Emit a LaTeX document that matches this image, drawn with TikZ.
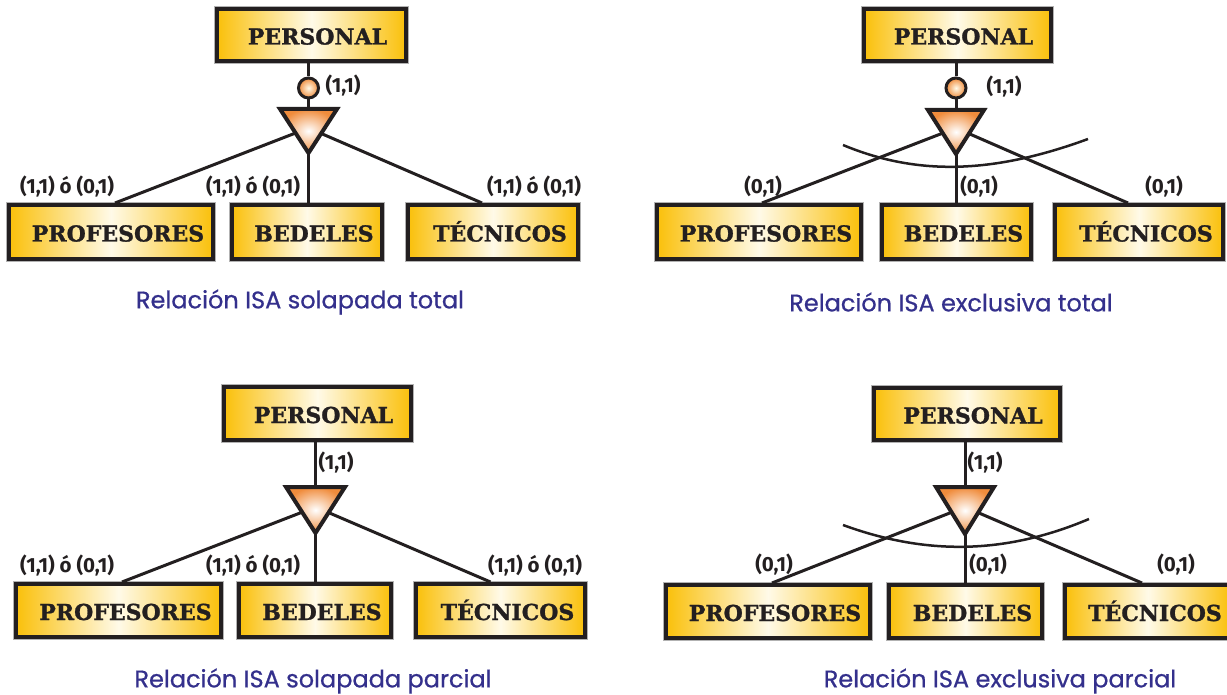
\documentclass[tikz,border=0pt]{standalone}
\usepackage{fontspec}
\newfontfamily\entfont{DejaVu Serif}[BoldFeatures={FakeBold=1.2}]
\newfontfamily\lblfont{Fira Sans}
\newfontfamily\capfont{Poppins}[FakeBold=0.7]
\definecolor{ink}{RGB}{35,31,32}
\definecolor{gold}{RGB}{250,192,10}
\definecolor{cream}{RGB}{255,250,232}
\definecolor{orng}{RGB}{240,140,60}
\definecolor{capblue}{RGB}{52,48,140}
\tikzset{
 ent/.style={draw=ink, line width=4pt, left color=gold, right color=gold, middle color=cream, inner sep=0pt,
   text height=19pt, text depth=0pt,
   font=\entfont\bfseries\fontsize{22}{22}\selectfont, text=ink, preaction={draw=black!30, line width=6pt}},
 conn/.style={draw=ink, line width=3pt},
 tri/.style={draw=ink, line width=4pt, shading=radial, inner color=white, outer color=orng, miter limit=10},
 knob/.style={circle, draw=ink, line width=3pt, inner sep=0pt, minimum size=20pt, shading=radial, inner color=cream, outer color=orng},
 card/.style={font=\lblfont\bfseries\fontsize{20.5}{20.5}\selectfont, text=ink, inner sep=0pt},
 capt/.style={font=\capfont\fontsize{24}{24}\selectfont, text=capblue, inner sep=0pt},
 arcline/.style={draw=ink, line width=2.5pt},
}
\begin{document}
\begin{tikzpicture}[x=1pt,y=-1pt]
\useasboundingbox (0,0) rectangle (1227,695);
% ================= top-left: solapada total
\node[ent, minimum width=189pt, minimum height=52pt] (P1) at (311.5,35) {\hspace*{12pt}PERSONAL};
\node[ent, minimum width=204pt, minimum height=54pt] (A1) at (111,232) {\hspace*{14pt}PROFESORES};
\node[ent, minimum width=150pt, minimum height=54pt] (B1) at (307,232) {\hspace*{14pt}BEDELES};
\node[ent, minimum width=170pt, minimum height=54pt] (C1) at (493,232) {\hspace*{14pt}TÉCNICOS};
\coordinate (T1) at (308.5,128);
\coordinate (T1top) at (308.5,109);
\node[knob] (K1) at (308.5,88) {};
\draw[conn] (P1.south -| K1) -- (K1.north);
\draw[conn] (K1.south) -- (T1top);
\draw[conn] (T1) -- ([xshift=4pt]A1.north);
\draw[conn] (T1) -- (T1 |- B1.north);
\draw[conn] (T1) -- ([xshift=-11pt]C1.north);
\path[tri] (280,109) -- (337,109) -- (308.5,153) -- cycle;
\node[card] (L1a) at (343,86) {(1,1)};
\node[card] (L1b) at (67,187) {(1,1) ó (0,1)};
\node[card] (L1c) at (253,187) {(1,1) ó (0,1)};
\node[card] (L1d) at (534,187) {(1,1) ó (0,1)};
\node[capt] (S1) at (300,302) {Relación ISA solapada total};
% ================= top-right: exclusiva total
\node[ent, minimum width=187pt, minimum height=52pt] (P2) at (957.5,35) {\hspace*{12pt}PERSONAL};
\node[ent, minimum width=204pt, minimum height=54pt] (A2) at (759,232) {\hspace*{14pt}PROFESORES};
\node[ent, minimum width=149pt, minimum height=54pt] (B2) at (956.5,232) {\hspace*{14pt}BEDELES};
\node[ent, minimum width=168pt, minimum height=54pt] (C2) at (1139,232) {\hspace*{14pt}TÉCNICOS};
\coordinate (T2) at (956,128);
\coordinate (T2top) at (956,110);
\node[knob] (K2) at (956,88) {};
\draw[conn] (P2.south -| K2) -- (K2.north);
\draw[conn] (K2.south) -- (T2top);
\draw[conn] (T2) -- ([xshift=3pt]A2.north);
\draw[conn] (T2) -- (T2 |- B2.north);
\draw[conn] (T2) -- ([xshift=-11pt]C2.north);
\coordinate (R2a) at (843,145);
\coordinate (R2b) at (1088,139);
\draw[arcline] (R2a) .. controls (915,175) and (990,175) .. (R2b);
\path[tri] (928,110) -- (984,110) -- (956,154) -- cycle;
\node[card] (L2a) at (1004,87) {(1,1)};
\node[card] (L2b) at (763,187) {(0,1)};
\node[card] (L2c) at (979,187) {(0,1)};
\node[card] (L2d) at (1164,187) {(0,1)};
\node[capt] (S2) at (951,302) {Relación ISA exclusiva total};
% ================= bottom-left: solapada parcial
\node[ent, minimum width=187pt, minimum height=53pt] (P3) at (317.5,413.5) {\hspace*{12pt}PERSONAL};
\node[ent, minimum width=205pt, minimum height=53pt] (A3) at (118.5,610.5) {\hspace*{14pt}PROFESORES};
\node[ent, minimum width=152pt, minimum height=53pt] (B3) at (315,610.5) {\hspace*{14pt}BEDELES};
\node[ent, minimum width=169pt, minimum height=53pt] (C3) at (500.5,610.5) {\hspace*{14pt}TÉCNICOS};
\coordinate (T3) at (315.5,507);
\coordinate (T3top) at (315.5,487);
\draw[conn] (P3.south -| T3top) -- (T3top);
\draw[conn] (T3) -- ([xshift=3.5pt]A3.north);
\draw[conn] (T3) -- (T3 |- B3.north);
\draw[conn] (T3) -- ([xshift=-10pt]C3.north);
\path[tri] (286,487) -- (345,487) -- (315.5,533) -- cycle;
\node[card] (L3a) at (336,463) {(1,1)};
\node[card] (L3b) at (67,566) {(1,1) ó (0,1)};
\node[card] (L3c) at (253,566) {(1,1) ó (0,1)};
\node[card] (L3d) at (535,566) {(1,1) ó (0,1)};
\node[capt] (S3) at (313,681) {Relación ISA solapada parcial};
% ================= bottom-right: exclusiva parcial
\node[ent, minimum width=186pt, minimum height=52pt] (P4) at (967,414) {\hspace*{12pt}PERSONAL};
\node[ent, minimum width=204pt, minimum height=53pt] (A4) at (768,611.5) {\hspace*{14pt}PROFESORES};
\node[ent, minimum width=153pt, minimum height=53pt] (B4) at (965.5,611.5) {\hspace*{14pt}BEDELES};
\node[ent, minimum width=166pt, minimum height=53pt] (C4) at (1148,611.5) {\hspace*{14pt}TÉCNICOS};
\coordinate (T4) at (965,507);
\coordinate (T4top) at (965,487);
\draw[conn] (P4.south -| T4top) -- (T4top);
\draw[conn] (T4) -- ([xshift=4pt]A4.north);
\draw[conn] (T4) -- (T4 |- B4.north);
\draw[conn] (T4) -- ([xshift=-6pt]C4.north);
\coordinate (R4a) at (843,525);
\coordinate (R4b) at (1089,519);
\draw[arcline] (R4a) .. controls (925,555) and (1004,555) .. (R4b);
\path[tri] (936,487) -- (994,487) -- (965,534) -- cycle;
\node[card] (L4a) at (985,463) {(1,1)};
\node[card] (L4b) at (774,565) {(0,1)};
\node[card] (L4c) at (988,565) {(0,1)};
\node[card] (L4d) at (1176,565) {(0,1)};
\node[capt] (S4) at (1000,681) {Relación ISA exclusiva parcial};
\end{tikzpicture}
\end{document}
